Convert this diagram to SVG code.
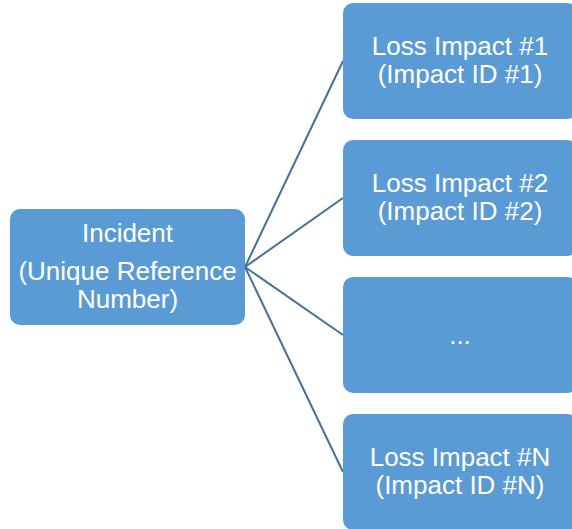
<svg xmlns="http://www.w3.org/2000/svg" width="572" height="529" viewBox="0 0 572 529">
  <style>
    .box { fill: #5B9BD5; }
    .lbl { font-family: "Liberation Sans", Arial, sans-serif; font-size: 26px; fill: #FFFFFF; text-anchor: middle; }
    .edge { stroke: #41719C; stroke-width: 2; fill: none; }
  </style>
  <rect width="572" height="529" fill="#FFFFFF"/>
  <g id="connectors">
    <line class="edge" x1="245" y1="267" x2="343" y2="61"/>
    <line class="edge" x1="245" y1="267" x2="343" y2="198"/>
    <line class="edge" x1="245" y1="267" x2="343" y2="335"/>
    <line class="edge" x1="245" y1="267" x2="343" y2="472"/>
  </g>
  <g id="incident">
    <rect class="box" x="10" y="209" width="235" height="116" rx="10"/>
    <text class="lbl" x="127.5" y="242">Incident</text>
    <text class="lbl" x="127.5" y="280">(Unique Reference</text>
    <text class="lbl" x="127.5" y="308">Number)</text>
  </g>
  <g id="impact1">
    <rect class="box" x="343" y="3" width="234" height="116" rx="10"/>
    <text class="lbl" x="460" y="55">Loss Impact #1</text>
    <text class="lbl" x="460" y="83">(Impact ID #1)</text>
  </g>
  <g id="impact2">
    <rect class="box" x="343" y="140" width="234" height="116" rx="10"/>
    <text class="lbl" x="460" y="192">Loss Impact #2</text>
    <text class="lbl" x="460" y="220">(Impact ID #2)</text>
  </g>
  <g id="impact-more">
    <rect class="box" x="343" y="277" width="234" height="116" rx="10"/>
    <text class="lbl" x="460" y="344">...</text>
  </g>
  <g id="impactN">
    <rect class="box" x="343" y="414" width="234" height="116" rx="10"/>
    <text class="lbl" x="460" y="466">Loss Impact #N</text>
    <text class="lbl" x="460" y="494">(Impact ID #N)</text>
  </g>
</svg>
